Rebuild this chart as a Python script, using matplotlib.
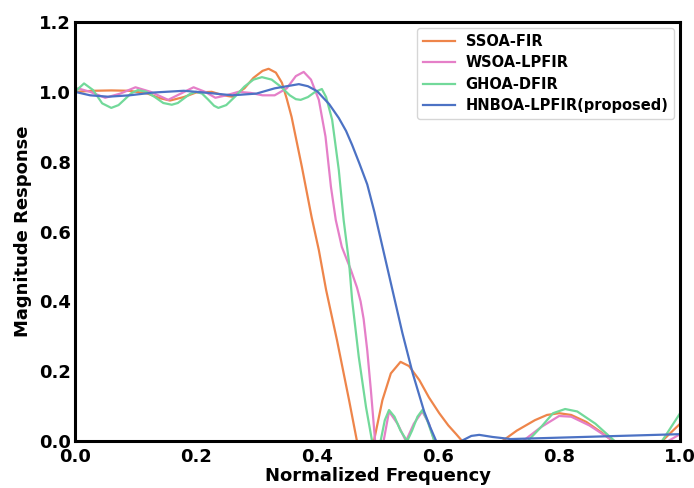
import matplotlib
matplotlib.use("Agg")
import matplotlib.pyplot as plt

# values (normalized frequency, magnitude)
ssoa_x = [0, 0.03, 0.06, 0.09, 0.12, 0.14, 0.157, 0.18, 0.2, 0.226, 0.245, 0.26, 0.28, 0.295,
          0.31, 0.32, 0.332, 0.342, 0.35, 0.358, 0.375, 0.391, 0.403, 0.415, 0.433, 0.453,
          0.466, 0.48, 0.494, 0.508, 0.522, 0.538, 0.552, 0.569, 0.585, 0.602, 0.617, 0.63,
          0.64, 0.67, 0.706, 0.73, 0.76, 0.78, 0.8, 0.82, 0.845, 0.87, 0.889, 0.93, 0.97, 1.0]
ssoa_y = [1.0, 1.003, 1.004, 1.003, 0.995, 0.982, 0.975, 0.985, 0.998, 1.0, 0.99, 0.986, 1.01, 1.04,
          1.06, 1.066, 1.055, 1.026, 0.98, 0.928, 0.785, 0.642, 0.547, 0.433, 0.289, 0.117,
          0.0, -0.03, 0.0, 0.117, 0.194, 0.227, 0.215, 0.175, 0.125, 0.08, 0.045, 0.02,
          0.0, -0.03, 0.0, 0.03, 0.06, 0.075, 0.08, 0.075, 0.055, 0.025, 0.0, -0.03, 0.0, 0.05]

wsoa_x = [0, 0.005, 0.025, 0.05, 0.075, 0.1, 0.125, 0.154, 0.175, 0.196, 0.215, 0.232, 0.25,
          0.27, 0.29, 0.31, 0.33, 0.35, 0.365, 0.378, 0.39, 0.403, 0.414, 0.423, 0.431, 0.441,
          0.456, 0.466, 0.472, 0.477, 0.483, 0.489, 0.496, 0.503, 0.51, 0.519, 0.533, 0.547,
          0.56, 0.574, 0.585, 0.594, 0.65, 0.74, 0.77, 0.8, 0.82, 0.85, 0.89, 0.93, 0.98, 1.0]
wsoa_y = [1.0, 1.01, 1.0, 0.983, 0.995, 1.013, 1.0, 0.977, 0.995, 1.013, 1.0, 0.983, 0.99,
          1.0, 0.997, 0.99, 0.99, 1.01, 1.045, 1.057, 1.035, 0.977, 0.872, 0.728, 0.633, 0.556,
          0.49, 0.44, 0.4, 0.35, 0.26, 0.146, 0.0, -0.03, 0.0, 0.085, 0.05, 0.0,
          0.05, 0.085, 0.05, 0.0, -0.02, 0.0, 0.04, 0.072, 0.07, 0.045, 0.0, -0.02, 0.0, 0.02]

ghoa_x = [0, 0.015, 0.03, 0.045, 0.06, 0.072, 0.082, 0.093, 0.104, 0.118, 0.132, 0.146, 0.16,
          0.17, 0.18, 0.19, 0.2, 0.21, 0.22, 0.23, 0.237, 0.25, 0.265, 0.28, 0.295, 0.309,
          0.325, 0.34, 0.355, 0.365, 0.373, 0.385, 0.397, 0.408, 0.415, 0.425, 0.436, 0.444,
          0.453, 0.458, 0.469, 0.481, 0.491, 0.498, 0.505, 0.512, 0.519, 0.528, 0.538, 0.549,
          0.557, 0.566, 0.574, 0.582, 0.594, 0.67, 0.748, 0.77, 0.79, 0.81, 0.83, 0.86, 0.892,
          0.93, 0.97, 0.985, 1.0]
ghoa_y = [1.0, 1.024, 1.005, 0.967, 0.954, 0.962, 0.978, 0.996, 1.005, 1.0, 0.985, 0.968, 0.963,
          0.968, 0.981, 0.994, 1.0, 0.995, 0.978, 0.96, 0.954, 0.962, 0.987, 1.015, 1.035, 1.042,
          1.035, 1.015, 0.99, 0.979, 0.977, 0.985, 1.0, 1.008, 0.985, 0.92, 0.776, 0.633,
          0.51, 0.404, 0.241, 0.097, 0.0, -0.03, 0.0, 0.06, 0.089, 0.07, 0.03, 0.0,
          0.03, 0.07, 0.089, 0.06, 0.0, -0.04, 0.0, 0.04, 0.08, 0.092, 0.085, 0.05, 0.0,
          -0.03, 0.0, 0.04, 0.08]

hnboa_x = [0, 0.025, 0.055, 0.09, 0.13, 0.18, 0.22, 0.26, 0.3, 0.33, 0.37, 0.385, 0.4, 0.42,
           0.436, 0.448, 0.458, 0.47, 0.483, 0.495, 0.507, 0.525, 0.541, 0.558, 0.577, 0.587,
           0.597, 0.62, 0.638, 0.655, 0.668, 0.69, 0.72, 0.8, 0.9, 1.0]
hnboa_y = [1.0, 0.99, 0.986, 0.99, 0.998, 1.003, 0.997, 0.99, 0.995, 1.01, 1.022, 1.016, 1.002,
           0.965, 0.925, 0.888, 0.848, 0.795, 0.735, 0.655, 0.565, 0.43, 0.31, 0.195, 0.085,
           0.04, 0.0, -0.02, 0.0, 0.015, 0.018, 0.012, 0.006, 0.01, 0.015, 0.02]

labels = ["SSOA-FIR", "WSOA-LPFIR", "GHOA-DFIR", "HNBOA-LPFIR(proposed)"]
colors = ["#EE854A", "#E57FC8", "#72D99A", "#4C72C4"]

fig = plt.figure(figsize=(6.94, 4.88), dpi=100)
ax = fig.add_axes([0.108, 0.096, 0.872, 0.859])

series = [(ssoa_x, ssoa_y), (wsoa_x, wsoa_y), (ghoa_x, ghoa_y), (hnboa_x, hnboa_y)]
for (xs, ys), lab, col in zip(series, labels, colors):
    ax.plot(xs, ys, color=col, lw=1.6, label=lab)

ax.set_xlim(0, 1.0)
ax.set_ylim(0, 1.2)
ax.set_xticks([0, 0.2, 0.4, 0.6, 0.8, 1.0])
ax.set_yticks([0, 0.2, 0.4, 0.6, 0.8, 1.0, 1.2])
ax.tick_params(length=0, labelsize=13)
ax.tick_params(axis="x", pad=5)
ax.tick_params(axis="y", pad=3)
for lbl in ax.get_xticklabels() + ax.get_yticklabels():
    lbl.set_fontweight("bold")
for sp in ax.spines.values():
    sp.set_linewidth(2.2)

ax.set_xlabel("Normalized Frequency", fontsize=13, fontweight="bold", labelpad=1)
ax.set_ylabel("Magnitude Response", fontsize=13, fontweight="bold", labelpad=5)

leg = ax.legend(loc="upper right", prop={"weight": "bold", "size": 10.5}, handlelength=2.2,
                handletextpad=0.7, borderaxespad=0.4, labelspacing=0.45)

fig.savefig("out.png", dpi=100)
